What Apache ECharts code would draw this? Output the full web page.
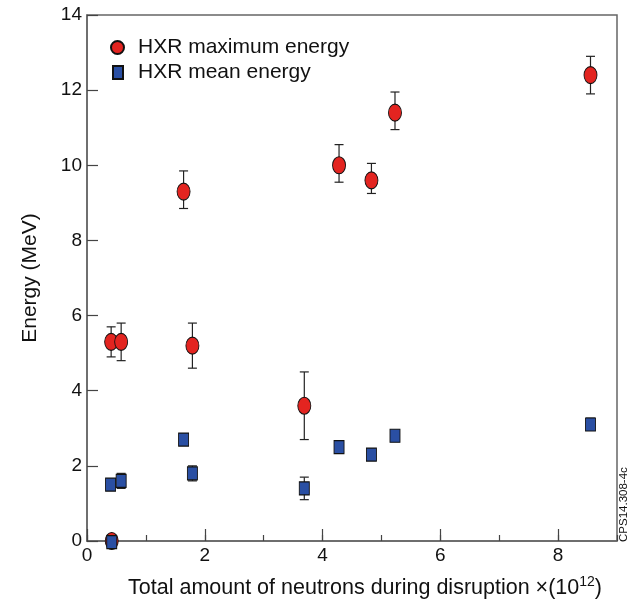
<!DOCTYPE html>
<html>
<head>
<meta charset="utf-8">
<script src="https://cdn.jsdelivr.net/npm/echarts@6/dist/echarts.min.js"></script>
<style>
  html, body { margin: 0; padding: 0; background: #fff; }
  #chart { width: 637px; height: 604px; }
</style>
</head>
<body>
<div id="chart"></div>
<script>
// HXR maximum energy (red ellipses) with error bars
const maxX  = [0.42, 0.41, 0.58, 1.64, 1.79, 3.69, 4.28, 4.83, 5.23, 8.55];
const maxY  = [0.0,  5.3,  5.3,  9.3,  5.2,  3.6, 10.0,  9.6, 11.4, 12.4];
const maxLo = [null, 4.9,  4.8,  8.85, 4.6,  2.7,  9.55, 9.25, 10.95, 11.9];
const maxHi = [null, 5.7,  5.8,  9.85, 5.8,  4.5, 10.55, 10.05, 11.95, 12.9];

// HXR mean energy (blue squares) with error bars
const meanX  = [0.42, 0.40, 0.58, 1.64, 1.79, 3.69, 4.28, 4.83, 5.23, 8.55];
const meanY  = [-0.03, 1.5, 1.6,  2.7,  1.8,  1.4,  2.5,  2.3,  2.8,  3.1];
const meanLo = [null, null, 1.4,  null, 1.6,  1.1,  null, null, null, 2.95];
const meanHi = [null, null, 1.8,  null, 2.0,  1.7,  null, null, null, 3.27];

// axis ticks
const xTicks = [0, 2, 4, 6, 8];
const yTicks = [0, 2, 4, 6, 8, 10, 12, 14];

const FONT = '"Liberation Sans", Arial, Helvetica, sans-serif';
const ELLIPSE = 'path://M50,0 A50,50 0 1,1 50,100 A50,50 0 1,1 50,0 Z';

function pairs(xs, ys) { return xs.map((x, i) => [x, ys[i]]); }
function bars(xs, lo, hi) {
  const out = [];
  xs.forEach((x, i) => { if (lo[i] !== null) out.push([x, lo[i], hi[i]]); });
  return out;
}

function errorBar(params, api) {
  const x = api.value(0);
  const top = api.coord([x, api.value(2)]);
  const bot = api.coord([x, api.value(1)]);
  const hw = 4.5;
  const st = { stroke: '#222', lineWidth: 1.2 };
  return {
    type: 'group',
    children: [
      { type: 'line', shape: { x1: top[0], y1: top[1], x2: bot[0], y2: bot[1] }, style: st },
      { type: 'line', shape: { x1: top[0] - hw, y1: top[1], x2: top[0] + hw, y2: top[1] }, style: st },
      { type: 'line', shape: { x1: bot[0] - hw, y1: bot[1], x2: bot[0] + hw, y2: bot[1] }, style: st }
    ]
  };
}

const chart = echarts.init(document.getElementById('chart'), null, { renderer: 'canvas' });

chart.setOption({
  animation: false,
  backgroundColor: '#fff',
  textStyle: { fontFamily: FONT },
  grid: {
    left: 87, right: 20, top: 15, bottom: 60,
    show: true, borderColor: '#666', borderWidth: 1.5, backgroundColor: 'transparent'
  },
  legend: [
    {
      left: 105, top: 32, padding: 5, itemWidth: 13, itemHeight: 17,
      data: [{ name: 'HXR maximum energy', icon: ELLIPSE }],
      textStyle: { fontFamily: FONT, fontSize: 21, color: '#111', padding: [0, 0, 0, 9] },
      selectedMode: false
    },
    {
      left: 107, top: 57, padding: 5, itemWidth: 10, itemHeight: 13,
      data: [{ name: 'HXR mean energy', icon: 'rect' }],
      textStyle: { fontFamily: FONT, fontSize: 21, color: '#111', padding: [0, 0, 0, 10] },
      selectedMode: false
    }
  ],
  xAxis: [
    {
      type: 'value', min: 0, max: 9, interval: 2,
      name: 'Total amount of neutrons during disruption ×(10{sup|12})',
      nameLocation: 'middle', nameGap: 34,
      nameTextStyle: {
        fontFamily: FONT, fontSize: 21.5, color: '#111', padding: [0, 0, 0, 26],
        rich: { sup: { fontFamily: FONT, fontSize: 14, color: '#111', verticalAlign: 'top', padding: [0, 0, 12, 0] } }
      },
      axisLine: { show: true, lineStyle: { color: '#666', width: 1.5 } },
      axisTick: { show: true, inside: true, length: 12, lineStyle: { color: '#444', width: 1.2 } },
      axisLabel: {
        fontFamily: FONT, fontSize: 19, color: '#111', margin: 5, showMaxLabel: false,
        formatter: v => (xTicks.indexOf(v) >= 0 ? String(v) : '')
      },
      splitLine: { show: false }
    },
    {
      // odd-valued minor ticks
      type: 'value', min: 0, max: 9, interval: 1, position: 'bottom', gridIndex: 0,
      axisLine: { show: false },
      axisTick: { show: true, inside: true, length: 6, lineStyle: { color: '#444', width: 1.2 } },
      axisLabel: { show: false },
      splitLine: { show: false }
    }
  ],
  yAxis: {
    type: 'value', min: 0, max: 14, interval: 2,
    name: 'Energy (MeV)', nameLocation: 'middle', nameGap: 46,
    nameTextStyle: { fontFamily: FONT, fontSize: 21, color: '#111' },
    axisLine: { show: true, lineStyle: { color: '#666', width: 1.5 } },
    axisTick: { show: true, inside: true, length: 11, lineStyle: { color: '#444', width: 1.2 } },
    axisLabel: {
      fontFamily: FONT, fontSize: 19, color: '#111', margin: 5,
      formatter: v => (yTicks.indexOf(v) >= 0 ? String(v) : '')
    },
    splitLine: { show: false }
  },
  series: [
    {
      type: 'custom', name: 'maxErr', renderItem: errorBar, z: 2,
      encode: { x: 0, y: [1, 2] }, data: bars(maxX, maxLo, maxHi)
    },
    {
      type: 'custom', name: 'meanErr', renderItem: errorBar, z: 2,
      encode: { x: 0, y: [1, 2] }, data: bars(meanX, meanLo, meanHi)
    },
    {
      type: 'scatter', name: 'HXR maximum energy', symbol: ELLIPSE, symbolSize: [13, 17],
      clip: false, z: 3,
      itemStyle: { color: '#e32420', borderColor: '#111', borderWidth: 1, opacity: 1 },
      data: pairs(maxX, maxY)
    },
    {
      type: 'scatter', name: 'HXR mean energy', symbol: 'rect', symbolSize: [10, 13],
      clip: false, z: 4,
      itemStyle: { color: '#2a4fa3', borderColor: '#111', borderWidth: 1, opacity: 1 },
      data: pairs(meanX, meanY)
    }
  ],
  graphic: [
    {
      type: 'text', x: 630, y: 542, rotation: Math.PI / 2,
      style: { text: 'CPS14.308-4c', fontFamily: FONT, fontSize: 11.5, fill: '#111', textAlign: 'left', textVerticalAlign: 'bottom' }
    }
  ]
});
</script>
</body>
</html>
